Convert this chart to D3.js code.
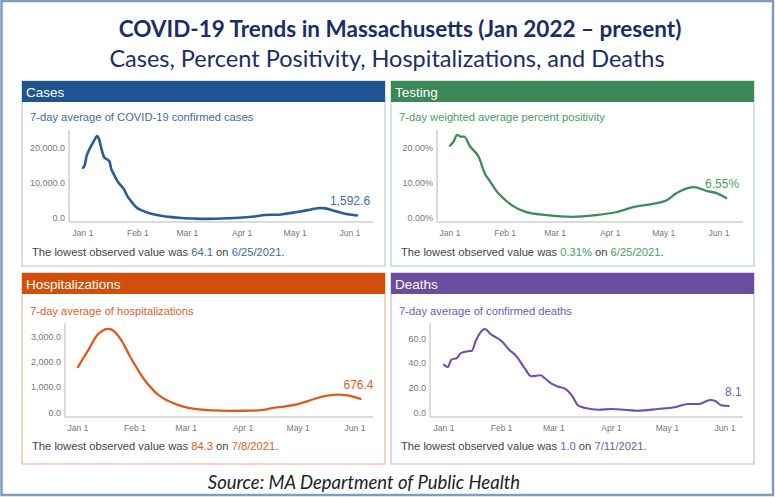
<!DOCTYPE html>
<html>
<head>
<meta charset="utf-8">
<script src="https://d3js.org/d3.v7.min.js"></script>
<style>
  body { margin: 0; background: #fff; }
  svg text { font-family: "Liberation Sans", Arial, sans-serif; }
</style>
</head>
<body>
<div id="chart"></div>
<script>
  var width = 775, height = 498;

  // month tick positions on every x axis
  var monthTicks = ["2022-01-01", "2022-02-01", "2022-03-01", "2022-04-01", "2022-05-01", "2022-06-01"];

  // 7-day average of confirmed cases
  var casesData = [
    ["2022-01-01", 15200], ["2022-01-02", 16000], ["2022-01-03", 18500], ["2022-01-04", 19800],
    ["2022-01-06", 21800], ["2022-01-08", 23600], ["2022-01-09", 24300], ["2022-01-10", 23500],
    ["2022-01-11", 21500], ["2022-01-13", 18200], ["2022-01-14", 17800], ["2022-01-16", 17000],
    ["2022-01-17", 14800], ["2022-01-18", 13800], ["2022-01-20", 11800], ["2022-01-21", 11000],
    ["2022-01-23", 9800], ["2022-01-24", 9200], ["2022-01-26", 7200], ["2022-01-28", 5800],
    ["2022-01-31", 4000], ["2022-02-02", 3300], ["2022-02-04", 2900], ["2022-02-07", 2300],
    ["2022-02-10", 1900], ["2022-02-14", 1500], ["2022-02-20", 1100], ["2022-02-26", 850],
    ["2022-03-05", 700], ["2022-03-12", 620], ["2022-03-18", 650], ["2022-03-25", 800],
    ["2022-04-01", 1000], ["2022-04-08", 1300], ["2022-04-14", 1700], ["2022-04-18", 1800],
    ["2022-04-22", 1800], ["2022-04-26", 2100], ["2022-04-30", 2400], ["2022-05-04", 2700],
    ["2022-05-08", 3100], ["2022-05-12", 3500], ["2022-05-15", 3700], ["2022-05-18", 3600],
    ["2022-05-22", 3100], ["2022-05-26", 2500], ["2022-05-30", 2000], ["2022-06-02", 1800],
    ["2022-06-05", 1592.6]
  ];

  // 7-day weighted average percent positivity
  var testingData = [
    ["2022-01-01", 21.5], ["2022-01-03", 22.7], ["2022-01-05", 24.6], ["2022-01-07", 24.1],
    ["2022-01-09", 24.1], ["2022-01-12", 21.5], ["2022-01-17", 18.4], ["2022-01-21", 13.1],
    ["2022-01-23", 11.7], ["2022-01-27", 8.6], ["2022-02-01", 6.0], ["2022-02-05", 4.4],
    ["2022-02-12", 2.7], ["2022-02-24", 1.7], ["2022-03-11", 1.2], ["2022-03-24", 1.7],
    ["2022-04-04", 2.5], ["2022-04-15", 4.1], ["2022-04-27", 5.1], ["2022-05-03", 6.0],
    ["2022-05-08", 7.9], ["2022-05-14", 9.3], ["2022-05-18", 9.7], ["2022-05-25", 8.6],
    ["2022-05-31", 7.9], ["2022-06-05", 6.55]
  ];

  // 7-day average of hospitalizations
  var hospData = [
    ["2022-01-01", 1930], ["2022-01-04", 2300], ["2022-01-07", 2650], ["2022-01-11", 3150],
    ["2022-01-14", 3350], ["2022-01-17", 3440], ["2022-01-19", 3420], ["2022-01-22", 3250],
    ["2022-01-25", 2950], ["2022-01-29", 2400], ["2022-02-02", 1900], ["2022-02-06", 1450],
    ["2022-02-10", 1100], ["2022-02-14", 820], ["2022-02-19", 600], ["2022-02-24", 450],
    ["2022-03-01", 340], ["2022-03-08", 260], ["2022-03-15", 220], ["2022-03-25", 205],
    ["2022-04-05", 210], ["2022-04-12", 240], ["2022-04-16", 300], ["2022-04-24", 380],
    ["2022-05-01", 470], ["2022-05-06", 580], ["2022-05-11", 700], ["2022-05-17", 800],
    ["2022-05-23", 840], ["2022-05-28", 810], ["2022-06-04", 676.4]
  ];

  // 7-day average of confirmed deaths
  var deathsData = [
    ["2022-01-01", 41.6], ["2022-01-03", 39.7], ["2022-01-05", 45.7], ["2022-01-08", 47.0],
    ["2022-01-10", 51.0], ["2022-01-14", 52.5], ["2022-01-16", 53.0], ["2022-01-18", 60.6],
    ["2022-01-20", 66.5], ["2022-01-23", 70.6], ["2022-01-26", 66.5], ["2022-01-28", 64.6],
    ["2022-02-01", 60.6], ["2022-02-05", 53.8], ["2022-02-09", 48.4], ["2022-02-13", 39.5],
    ["2022-02-17", 32.2], ["2022-02-22", 33.0], ["2022-02-24", 30.8], ["2022-02-28", 26.0],
    ["2022-03-03", 24.0], ["2022-03-07", 22.2], ["2022-03-11", 16.0], ["2022-03-14", 8.7],
    ["2022-03-18", 6.5], ["2022-03-25", 5.1], ["2022-04-01", 5.7], ["2022-04-08", 5.1],
    ["2022-04-15", 4.3], ["2022-04-26", 5.7], ["2022-05-05", 7.1], ["2022-05-12", 9.7],
    ["2022-05-18", 9.7], ["2022-05-24", 13.0], ["2022-05-27", 11.9], ["2022-05-30", 8.7],
    ["2022-06-03", 8.1]
  ];

  var parse = d3.timeParse("%Y-%m-%d");
  var monthFmt = d3.timeFormat("%b %-d");

  var panels = [
    { name: "Cases", sub: "7-day average of COVID-19 confirmed cases", data: casesData,
      head: "#1f5490", border: "#c6d6e8", line: "#2a5d96", text: "#3a6ca5",
      x: 22, y: 81, w: 363, h: 185, axisX: 69, jan1: 83, jun1: 350, axisEnd: 373,
      yZero: 221, yTopPx: 151, yTopVal: 20000, yTicks: [0, 10000, 20000], axisTop: 130,
      subY: 40, footY: 175,
      fmt: d3.format(",.1f"), end: "1,592.6", low: "64.1", lowDate: "6/25/2021", stroke: 2.6 },
    { name: "Testing", sub: "7-day weighted average percent positivity", data: testingData,
      head: "#3a8957", border: "#c2e0cc", line: "#3c8c5a", text: "#4a9a68",
      x: 391, y: 81, w: 363, h: 185, axisX: 437, jan1: 450, jun1: 719, axisEnd: 743,
      yZero: 221, yTopPx: 151, yTopVal: 20, yTicks: [0, 10, 20], axisTop: 130,
      subY: 40, footY: 175,
      fmt: function (d) { return d.toFixed(2) + "%"; }, end: "6.55%", low: "0.31%", lowDate: "6/25/2021", stroke: 2.3 },
    { name: "Hospitalizations", sub: "7-day average of hospitalizations", data: hospData,
      head: "#d24f0e", border: "#f3c3ac", line: "#dd5a18", text: "#e0601f",
      x: 22, y: 273, w: 363, h: 191, axisX: 65, jan1: 78, jun1: 355, axisEnd: 373,
      yZero: 416, yTopPx: 340, yTopVal: 3000, yTicks: [0, 1000, 2000, 3000], axisTop: 323,
      subY: 42, footY: 177,
      fmt: d3.format(",.1f"), end: "676.4", low: "84.3", lowDate: "7/8/2021", stroke: 2.3 },
    { name: "Deaths", sub: "7-day average of confirmed deaths", data: deathsData,
      head: "#6b4c9f", border: "#d3c9e6", line: "#6f4fb0", text: "#7458b5",
      x: 391, y: 273, w: 363, h: 191, axisX: 430, jan1: 444, jun1: 725, axisEnd: 743,
      yZero: 416, yTopPx: 342, yTopVal: 60, yTicks: [0, 20, 40, 60], axisTop: 323,
      subY: 42, footY: 177,
      fmt: d3.format(".1f"), end: "8.1", low: "1.0", lowDate: "7/11/2021", stroke: 2.1 }
  ];

  var svg = d3.select("#chart").append("svg")
    .attr("width", width)
    .attr("height", height);

  svg.append("rect")
    .attr("width", width).attr("height", height)
    .attr("fill", "#fff");

  // outer frame
  svg.append("rect")
    .attr("x", 1.5).attr("y", 1).attr("width", width - 3.5).attr("height", height - 4)
    .attr("fill", "none")
    .attr("stroke", "#7f9dc0")
    .attr("stroke-width", 2.5);

  svg.append("text")
    .attr("x", 400).attr("y", 37)
    .attr("text-anchor", "middle")
    .style("font-family", "Lato, sans-serif")
    .style("font-weight", "bold")
    .style("font-size", "22.5px")
    .attr("fill", "#1b2d66")
    .text("COVID-19 Trends in Massachusetts (Jan 2022 \u2013 present)");

  svg.append("text")
    .attr("x", 387).attr("y", 67)
    .attr("text-anchor", "middle")
    .style("font-family", "Lato, sans-serif")
    .style("font-size", "23.5px")
    .attr("fill", "#1b2d66")
    .text("Cases, Percent Positivity, Hospitalizations, and Deaths");

  svg.append("text")
    .attr("x", 364).attr("y", 489)
    .attr("text-anchor", "middle")
    .style("font-family", "Lato, sans-serif")
    .style("font-style", "italic")
    .style("font-size", "18.5px")
    .attr("fill", "#222")
    .text("Source: MA Department of Public Health");

  panels.forEach(function (p) {
    var g = svg.append("g");
    var rows = p.data.map(function (d) { return { date: parse(d[0]), value: d[1] }; });

    // panel box + header
    g.append("rect")
      .attr("x", p.x).attr("y", p.y).attr("width", p.w).attr("height", p.h)
      .attr("fill", "#fff").attr("stroke", p.border).attr("stroke-width", 1.5);
    g.append("rect")
      .attr("x", p.x).attr("y", p.y).attr("width", p.w).attr("height", 21)
      .attr("fill", p.head);
    g.append("text")
      .attr("x", p.x + 4).attr("y", p.y + 15.5)
      .attr("fill", "#fff")
      .style("font-size", "13.5px")
      .text(p.name);

    g.append("text")
      .attr("x", p.x + 8).attr("y", p.y + p.subY)
      .attr("fill", p.text)
      .style("font-size", "11.2px")
      .text(p.sub);

    var x = d3.scaleTime()
      .domain([parse(monthTicks[0]), parse(monthTicks[monthTicks.length - 1])])
      .range([p.jan1, p.jun1]);
    var y = d3.scaleLinear()
      .domain([0, p.yTopVal])
      .range([p.yZero, p.yTopPx]);

    // axis lines
    g.append("line")
      .attr("x1", p.axisX).attr("x2", p.axisX)
      .attr("y1", p.axisTop).attr("y2", p.yZero + 1)
      .attr("stroke", "#cfcfcf").attr("stroke-width", 1.5);
    g.append("line")
      .attr("x1", p.axisX).attr("x2", p.axisEnd)
      .attr("y1", p.yZero + 1).attr("y2", p.yZero + 1)
      .attr("stroke", "#cfcfcf").attr("stroke-width", 1.5);

    // y tick labels
    g.selectAll(".ytick").data(p.yTicks).enter().append("text")
      .attr("x", p.axisX - 4)
      .attr("y", function (d) { return y(d) - 0.5; })
      .attr("text-anchor", "end")
      .attr("fill", "#777")
      .style("font-size", "9px")
      .text(p.fmt);

    // x tick labels
    g.selectAll(".xtick").data(monthTicks).enter().append("text")
      .attr("x", function (d) { return x(parse(d)); })
      .attr("y", p.yZero + 15)
      .attr("text-anchor", "middle")
      .attr("fill", "#777")
      .style("font-size", "8.5px")
      .text(function (d) { return monthFmt(parse(d)); });

    var line = d3.line()
      .x(function (d) { return x(d.date); })
      .y(function (d) { return y(d.value); })
      .curve(d3.curveMonotoneX);

    g.append("path")
      .datum(rows)
      .attr("d", line)
      .attr("fill", "none")
      .attr("stroke", p.line)
      .attr("stroke-width", p.stroke)
      .attr("stroke-linejoin", "round")
      .attr("stroke-linecap", "round");

    var last = rows[rows.length - 1];
    g.append("text")
      .attr("x", x(last.date) + 13)
      .attr("y", y(last.value) - 10)
      .attr("text-anchor", "end")
      .attr("fill", p.text)
      .style("font-size", "12px")
      .text(p.end);

    var foot = g.append("text")
      .attr("x", p.x + 10).attr("y", p.y + p.footY)
      .attr("fill", "#444")
      .style("font-size", "11.2px");
    foot.append("tspan").text("The lowest observed value was ");
    foot.append("tspan").attr("fill", p.text).text(p.low);
    foot.append("tspan").text(" on ");
    foot.append("tspan").attr("fill", p.text).text(p.lowDate);
    foot.append("tspan").text(".");
  });
</script>
</body>
</html>
